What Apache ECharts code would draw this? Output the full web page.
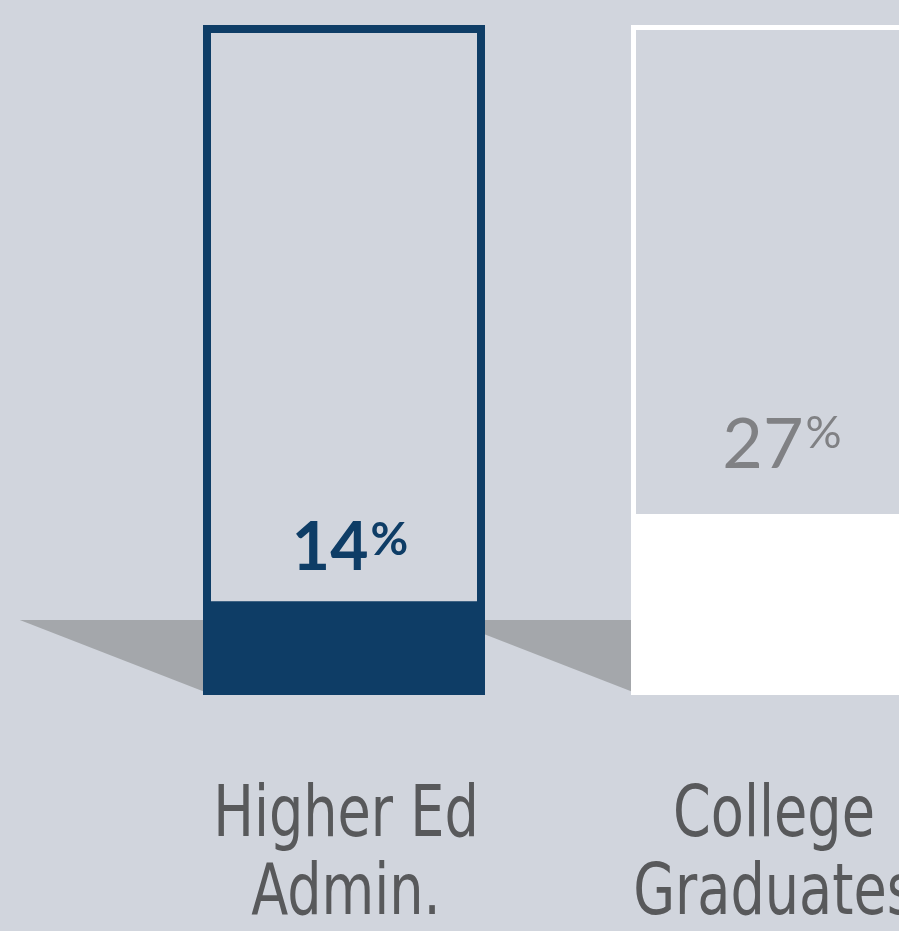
<!DOCTYPE html>
<html>
<head>
<meta charset="utf-8">
<script src="https://cdn.jsdelivr.net/npm/echarts@6/dist/echarts.min.js"></script>
<style>
html,body{margin:0;padding:0;background:#d1d5dd;}
#c{width:899px;height:931px;}
</style>
</head>
<body>
<div id="c"></div>
<script>
// ---- data ----
var categories = ['Higher Ed\nAdmin.', 'College\nGraduates'];
var values = [14, 27];
var fullValues = [100, 100];
var valueLabels = ['14', '27'];

// ---- styles ----
var BG = '#d1d5dd';
var NAVY = '#0e3d66';
var SHADOW = '#a4a7ab';
var LABEL_COLOR = '#58595b';
var SHADOW_TOP = 11.2;       // value level of shadow's top edge
var SHADOW_LEN = 0.428;      // shadow length as fraction of band width
var BAR_W = 282;
var outlineColors = [NAVY, '#ffffff'];
var outlineWidths = [8, 5];
var fillColors = [NAVY, '#ffffff'];

var chart = echarts.init(document.getElementById('c'));

var outlineData = fullValues.map(function (v, i) {
  return {
    value: v,
    itemStyle: { color: 'rgba(0,0,0,0)', borderColor: outlineColors[i], borderWidth: outlineWidths[i] }
  };
});

var labelStyles = [
  { distance: 17, offset: [6, 0], rich: {
      a: { fontFamily: 'Lato', fontWeight: 'bold', fontSize: 66, color: NAVY, lineHeight: 70 },
      b: { fontFamily: 'Lato', fontWeight: 'bold', fontSize: 46, color: NAVY, lineHeight: 70, verticalAlign: 'top', padding: [3, 0, 0, 2] } } },
  { distance: 32, offset: [10, 0], rich: {
      a: { fontFamily: 'Lato', fontWeight: 'normal', fontSize: 70, color: '#808184', lineHeight: 74 },
      b: { fontFamily: 'Lato', fontWeight: 'normal', fontSize: 45, color: '#808184', lineHeight: 74, verticalAlign: 'top', padding: [3, 0, 0, 2] } } }
];

var fillData = values.map(function (v, i) {
  return {
    value: v,
    itemStyle: { color: fillColors[i] },
    label: {
      show: true,
      position: 'top',
      distance: labelStyles[i].distance,
      offset: labelStyles[i].offset,
      formatter: '{a|' + valueLabels[i] + '}{b|%}',
      rich: labelStyles[i].rich
    }
  };
});

var option = {
  backgroundColor: BG,
  animation: false,
  grid: { left: 130, width: 856, top: 25, height: 670, outerBoundsMode: 'none', containLabel: false },
  xAxis: {
    type: 'category',
    data: categories,
    axisLine: { show: false },
    axisTick: { show: false },
    axisLabel: { show: false }
  },
  yAxis: {
    type: 'value', min: 0, max: 100,
    show: false,
    splitLine: { show: false }
  },
  series: [
    {
      type: 'custom',
      z: 1,
      silent: true,
      data: categories.map(function (c, i) { return [i]; }),
      renderItem: function (params, api) {
        var idx = api.value(0);
        var base = api.coord([idx, 0]);
        var top = api.coord([idx, SHADOW_TOP]);
        var band = api.size([1, 0])[0];
        var barLeft = base[0] - BAR_W / 2;
        var tip = barLeft - band * SHADOW_LEN;
        return {
          type: 'polygon',
          shape: { points: [[tip, top[1]], [barLeft + 2, top[1]], [barLeft + 2, base[1] - 3]] },
          style: { fill: SHADOW }
        };
      }
    },
    {
      type: 'bar',
      z: 3,
      barWidth: BAR_W,
      barGap: '-100%',
      data: fillData
    },
    {
      type: 'bar',
      z: 4,
      barWidth: BAR_W,
      barGap: '-100%',
      data: outlineData
    },
    {
      // category labels (condensed face approximated by horizontal scaling)
      type: 'custom',
      z: 5,
      silent: true,
      clip: false,
      data: categories.map(function (c, i) { return [i]; }),
      renderItem: function (params, api) {
        var idx = api.value(0);
        var base = api.coord([idx, 0]);
        return {
          type: 'text',
          x: base[0] + 2,
          y: base[1] + 83,
          scaleX: 0.835,
          style: {
            text: categories[idx],
            fill: LABEL_COLOR,
            fontFamily: "'DejaVu Sans Condensed', 'DejaVu Sans', sans-serif",
            fontSize: 72,
            lineHeight: 78,
            align: 'center',
            verticalAlign: 'top'
          }
        };
      }
    }
  ]
};
chart.setOption(option);
</script>
</body>
</html>
